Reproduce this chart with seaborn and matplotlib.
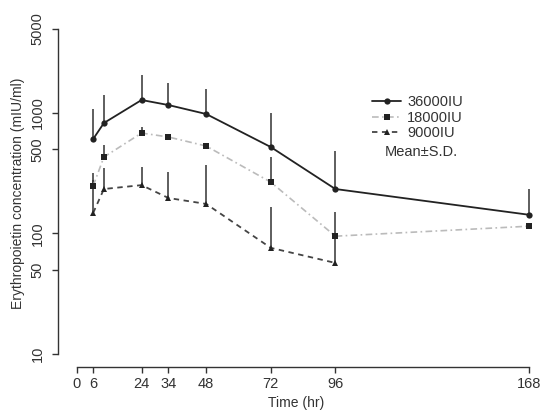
import numpy as np
import pandas as pd
import matplotlib
matplotlib.use("Agg")
import matplotlib.pyplot as plt
from matplotlib.lines import Line2D
import seaborn as sns

# veriler (grafikten okunan yaklaşık değerler)
time_hr = [6, 10, 24, 34, 48, 72, 96, 168]
dose_36000 = [608, 826, 1282, 1164, 981, 522, 234, 143]
sd_top_36000 = [1080, 1409, 2066, 1775, 1582, 1000, 484, 234]
dose_18000 = [248, 431, 682, 632, 532, 267, 95, 115]
sd_top_18000 = [318, 542, 765, 650, 545, 431, 151, 120]
time_9000 = [6, 10, 24, 34, 48, 72, 96]
dose_9000 = [148, 234, 252, 197, 176, 76, 57]
sd_top_9000 = [278, 350, 356, 324, 370, 166, 95]

x_ticks = [0, 6, 24, 34, 48, 72, 96, 168]
y_ticks = [10, 50, 100, 500, 1000, 5000]
labels = ["36000IU", "18000IU", "9000IU"]

sns.set_style("ticks")
plt.rcParams['font.family'] = ['Liberation Sans', 'DejaVu Sans']
plt.rcParams['font.size'] = 10.5

fig = plt.figure(figsize=(5.4, 4.11), dpi=100)
ax = fig.add_axes([58/540, 1 - 367/411, (535 - 58)/540, (367 - 20)/411])

df36 = pd.DataFrame({"t": time_hr, "c": dose_36000})
df18 = pd.DataFrame({"t": time_hr, "c": dose_18000})
df9 = pd.DataFrame({"t": time_9000, "c": dose_9000})

# hata çubukları (sadece yukarı)
ax.vlines(time_hr, dose_36000, sd_top_36000, color="#333333", lw=1.1, zorder=2)
ax.vlines(time_hr, dose_18000, sd_top_18000, color="#333333", lw=1.1, zorder=2)
ax.vlines(time_9000, dose_9000, sd_top_9000, color="#333333", lw=1.1, zorder=2)

sns.lineplot(data=df36, x="t", y="c", ax=ax, color="#222222", lw=1.3,
             marker="o", markersize=4.5, markeredgewidth=0, zorder=3)
sns.lineplot(data=df18, x="t", y="c", ax=ax, color="#bbbbbb", lw=1.2,
             linestyle=(0, (4, 2, 1, 2)), marker="s", markersize=5,
             markerfacecolor="#222222", markeredgewidth=0, zorder=3)
sns.lineplot(data=df9, x="t", y="c", ax=ax, color="#444444", lw=1.3,
             linestyle=(0, (3, 2.5)), marker="^", markersize=4,
             markerfacecolor="#222222", markeredgewidth=0, zorder=3)

ax.set_yscale("log")
ax.set_xlim(-7.06, 170.2)
ax.set_ylim(10 ** (1 - 13/120.5), 10 ** (1 + 334/120.5))

ax.set_xticks(x_ticks)
ax.set_xticklabels([str(v) for v in x_ticks])
ax.set_yticks(y_ticks)
ax.set_yticklabels([str(v) for v in y_ticks], rotation=90, va="center")
ax.yaxis.set_minor_locator(matplotlib.ticker.NullLocator())
ax.tick_params(axis="both", length=4.5, width=1, color="#333333",
               labelcolor="#333333", labelsize=10.5)
ax.tick_params(axis="y", pad=5)
ax.tick_params(axis="x", pad=3)

for side in ["top", "right"]:
    ax.spines[side].set_visible(False)
ax.spines["left"].set_bounds(10, 5000)
ax.spines["bottom"].set_bounds(0, 168)
for side in ["left", "bottom"]:
    ax.spines[side].set_color("#333333")
    ax.spines[side].set_linewidth(1)

ax.set_xlabel("Time (hr)", color="#333333", fontsize=10, labelpad=3)
ax.set_ylabel("Erythropoietin concentration (mIU/ml)", color="#333333",
              fontsize=10, labelpad=4)

handles = [
    Line2D([], [], color="#222222", lw=1.3, marker="o", markersize=4.5, markeredgewidth=0),
    Line2D([], [], color="#bbbbbb", lw=1.2, linestyle=(0, (4, 2, 1, 2)), marker="s",
           markersize=5, markerfacecolor="#222222", markeredgewidth=0),
    Line2D([], [], color="#444444", lw=1.3, linestyle=(0, (3, 2.5)), marker="^",
           markersize=4, markerfacecolor="#222222", markeredgewidth=0),
]
leg = ax.legend(handles, labels, frameon=False, loc="upper left",
                bbox_to_anchor=(365/540, 1 - 88/411), bbox_transform=fig.transFigure,
                handlelength=2.0, handletextpad=0.4, labelspacing=0.1,
                borderpad=0, fontsize=10.5)
for t in leg.get_texts():
    t.set_color("#333333")
fig.text(385/540, 1 - 152/411, "Mean±S.D.", fontsize=10.5, color="#333333",
         va="center", ha="left")

fig.savefig("out.png", dpi=100)
